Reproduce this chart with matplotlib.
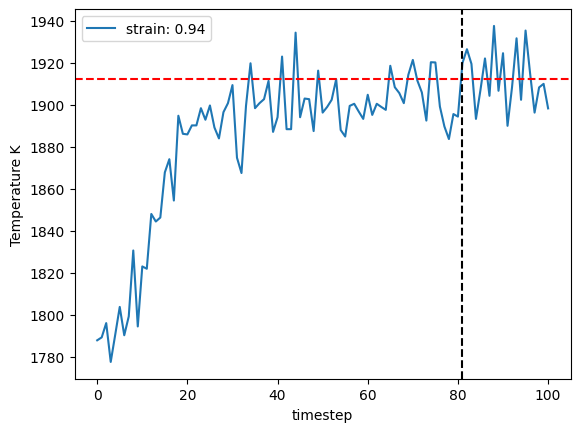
import numpy as np
import matplotlib
matplotlib.use("Agg")
import matplotlib.pyplot as plt

# temperature per timestep
temps = [
    1787.8, 1789.2, 1796.0, 1777.5, 1790.5, 1803.7, 1790.2, 1799.2, 1830.6, 1794.4,
    1823.0, 1821.9, 1848.0, 1844.4, 1846.3, 1867.8, 1874.1, 1854.4, 1894.8, 1886.2,
    1885.9, 1890.2, 1890.2, 1898.4, 1892.9, 1899.7, 1889.2, 1884.0, 1896.5, 1900.8,
    1909.4, 1874.8, 1867.5, 1899.5, 1919.8, 1898.4, 1900.8, 1902.7, 1911.4, 1887.1,
    1894.1, 1923.0, 1888.4, 1888.4, 1934.4, 1894.1, 1903.0, 1902.7, 1887.5, 1916.3,
    1896.3, 1899.0, 1902.4, 1912.2, 1888.0, 1884.9, 1899.5, 1900.5, 1896.8, 1893.3,
    1904.8, 1895.2, 1900.5, 1899.0, 1897.6, 1918.6, 1908.4, 1905.6, 1900.8, 1914.3,
    1921.4, 1911.6, 1905.9, 1892.5, 1920.3, 1920.2, 1899.2, 1889.7, 1883.7, 1895.6,
    1894.4, 1919.9, 1926.5, 1919.5, 1893.3, 1907.1, 1922.1, 1904.3, 1937.6, 1906.7,
    1924.6, 1890.0, 1908.4, 1931.7, 1902.4, 1935.4, 1915.1, 1896.3, 1908.3, 1910.0,
    1898.3,
]
timesteps = np.arange(len(temps))
strain = 0.94
equil_step = 81
mean_temp = 1912.4

fig, ax = plt.subplots(figsize=(6.4, 4.8))
ax.plot(timesteps, temps, label=f"strain: {strain}")
ax.axhline(mean_temp, color="r", linestyle="--")
ax.axvline(equil_step, color="k", linestyle="--")
ax.set_xlabel("timestep")
ax.set_ylabel("Temperature K")
ax.legend(loc="upper left")

fig.savefig("out.png", bbox_inches="tight")
